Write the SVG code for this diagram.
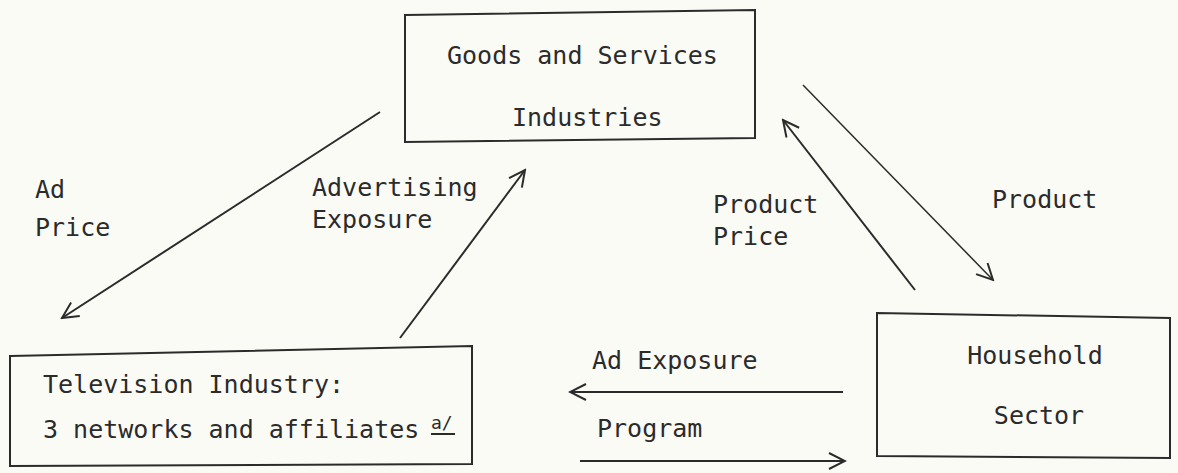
<svg xmlns="http://www.w3.org/2000/svg" width="1178" height="473" viewBox="0 0 1178 473">
<defs>
<marker id="ah" viewBox="0 0 20 20" refX="18" refY="10" markerWidth="20" markerHeight="20" markerUnits="userSpaceOnUse" orient="auto">
<path d="M2,2 L18,10 L2,18" fill="none" stroke="#2b2b2b" stroke-width="2"/>
</marker>
<style>
text{font-family:"DejaVu Sans Mono","Liberation Mono",monospace;font-size:25px;fill:#2b2b2b}
.box{fill:none;stroke:#2b2b2b;stroke-width:2}
.c{fill:none;stroke:#2b2b2b;stroke-width:2;marker-end:url(#ah)}
.thin{stroke-width:1.5}
</style>
</defs>
<rect width="1178" height="473" fill="#fbfbf6"/>
<g id="goods">
<polygon class="box" points="405,15 755,10 755,138 405,142"/>
<text x="447" y="64">Goods and Services</text>
<text x="512" y="126">Industries</text>
</g>
<g id="tv">
<polygon class="box" points="10,356 472,346 472,464 10,466"/>
<text x="43" y="393">Television Industry:</text>
<text x="43" y="438">3 networks and affiliates</text>
<text x="431" y="429" style="font-size:18px">a/</text>
<line x1="431" y1="434" x2="455" y2="434" stroke="#2b2b2b" stroke-width="2"/>
</g>
<g id="household">
<polygon class="box" points="877,313 1170,318 1170,458 877,456"/>
<text x="1035" y="364" text-anchor="middle">Household</text>
<text x="1039" y="424" text-anchor="middle">Sector</text>
</g>
<g id="connectors">
<line class="c" x1="380" y1="112" x2="62" y2="318"/>
<line class="c" x1="400" y1="338" x2="525" y2="170"/>
<line class="c" x1="915" y1="290" x2="783" y2="120"/>
<line class="c thin" x1="803" y1="85" x2="993" y2="280"/>
<line class="c" x1="843" y1="392" x2="570" y2="392"/>
<line class="c" x1="580" y1="461" x2="845" y2="461"/>
</g>
<g id="labels">
<text x="35" y="198">Ad</text>
<text x="35" y="236">Price</text>
<text x="312" y="196">Advertising</text>
<text x="312" y="228">Exposure</text>
<text x="713" y="213">Product</text>
<text x="713" y="245">Price</text>
<text x="992" y="208">Product</text>
<text x="592" y="369">Ad Exposure</text>
<text x="597" y="437">Program</text>
</g>
</svg>
